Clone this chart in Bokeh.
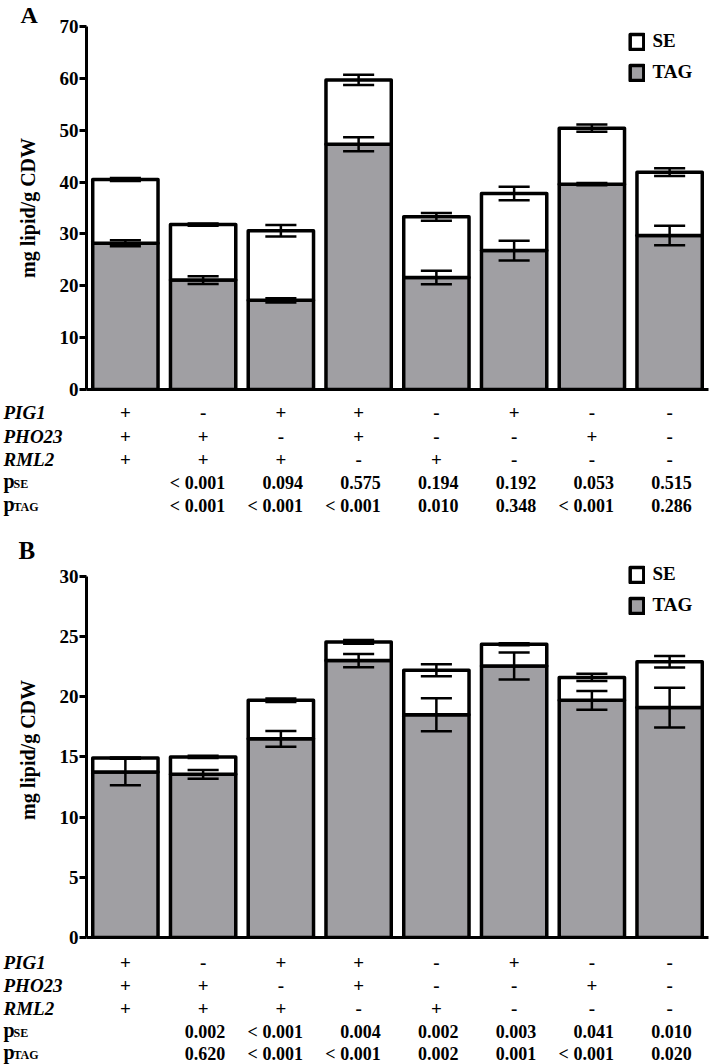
from bokeh.plotting import figure
from bokeh.models import (ColumnDataSource, Range1d, LinearAxis, FixedTicker, Legend,
                          LegendItem, Title)
from bokeh.layouts import column
from bokeh.embed import file_html
from bokeh.resources import INLINE
from bokeh.core.properties import value

# ---------------- data ----------------
genes = ["PIG1", "PHO23", "RML2"]
pig1 = ["+", "-", "+", "+", "-", "+", "-", "-"]
pho23 = ["+", "+", "-", "+", "-", "-", "+", "-"]
rml2 = ["+", "+", "+", "-", "+", "-", "-", "-"]
p_rows = ["SE", "TAG"]

# Panel A
tag_a = [28.2, 21.1, 17.2, 47.3, 21.6, 26.8, 39.6, 29.7]
tag_err_a = [0.6, 0.75, 0.4, 1.35, 1.3, 1.9, 0.2, 1.9]
se_a = [12.3, 10.7, 13.4, 12.4, 11.7, 11.0, 10.8, 12.2]
se_err_a = [0.3, 0.2, 1.1, 1.0, 0.75, 1.3, 0.7, 0.75]
p_se_a = ["", "< 0.001", "0.094", "0.575", "0.194", "0.192", "0.053", "0.515"]
p_tag_a = ["", "< 0.001", "< 0.001", "< 0.001", "0.010", "0.348", "< 0.001", "0.286"]
ticks_a = [0, 10, 20, 30, 40, 50, 60, 70]

# Panel B
tag_b = [13.75, 13.55, 16.5, 23.0, 18.5, 22.55, 19.7, 19.1]
tag_err_b = [1.1, 0.37, 0.65, 0.55, 1.37, 1.12, 0.78, 1.65]
se_b = [1.15, 1.45, 3.2, 1.55, 3.7, 1.8, 1.9, 3.8]
se_err_b = [0.05, 0.1, 0.15, 0.15, 0.5, 0.08, 0.3, 0.48]
p_se_b = ["", "0.002", "< 0.001", "0.004", "0.002", "0.003", "0.041", "0.010"]
p_tag_b = ["", "0.620", "< 0.001", "< 0.001", "0.002", "0.001", "< 0.001", "0.020"]
ticks_b = [0, 5, 10, 15, 20, 25, 30]

# ---------------- style / layout ----------------
FONT = "Liberation Serif"
GRAY = "#a09fa3"
INK = "black"
W = 709
LEFT = 86
RIGHT = 1
FRAME_W = W - LEFT - RIGHT
XPPU = FRAME_W / 8.0
N = 8
X = list(range(1, N + 1))


def bar_plot(tag, tag_err, se, se_err, ticks, H, top, frame_h, tick_span_px,
             legend_bottom, letter=None):
    ymax = ticks[-1]
    yppu = tick_span_px / float(ymax)
    y_end = frame_h / yppu
    bottom = H - top - frame_h
    total = [t + s for t, s in zip(tag, se)]
    src = ColumnDataSource(dict(
        x=X, zero=[0] * N, tag=tag, total=total,
        tag_lo=[t - e for t, e in zip(tag, tag_err)],
        tag_hi=[t + e for t, e in zip(tag, tag_err)],
        tot_lo=[t - e for t, e in zip(total, se_err)],
        tot_hi=[t + e for t, e in zip(total, se_err)],
        cap_l=[xi - 0.2 for xi in X], cap_r=[xi + 0.2 for xi in X],
    ))
    p = figure(width=W, height=H, x_range=Range1d(0.5, N + 0.5), y_range=Range1d(0, y_end),
               output_backend="svg", toolbar_location=None,
               x_axis_type=None, y_axis_type=None,
               min_border_left=LEFT, min_border_right=RIGHT,
               min_border_top=top, min_border_bottom=bottom)
    p.frame_align = False
    p.outline_line_color = None

    if letter is not None:
        p.title = Title(text=letter, align="left", offset=-66, standoff=-3,
                        text_font=FONT, text_font_size="24px", text_font_style="bold",
                        text_color=INK, vertical_align="bottom")

    yax = LinearAxis(ticker=FixedTicker(ticks=ticks), axis_label="mg lipid/g CDW",
                     bounds=(0, ymax))
    yax.axis_line_width = 3
    yax.axis_line_color = INK
    yax.major_tick_line_width = 3
    yax.major_tick_line_color = INK
    yax.major_tick_out = 7
    yax.major_tick_in = 0
    yax.minor_tick_line_color = None
    yax.major_label_standoff = 1
    yax.major_label_text_font = FONT
    yax.major_label_text_font_size = "19px"
    yax.major_label_text_font_style = "bold"
    yax.major_label_text_color = INK
    yax.axis_label_text_font = FONT
    yax.axis_label_text_font_size = "20px"
    yax.axis_label_text_font_style = "bold"
    yax.axis_label_text_color = INK
    yax.axis_label_standoff = 18
    p.add_layout(yax, "left")

    xax = LinearAxis(ticker=FixedTicker(ticks=[]))
    xax.axis_line_width = 3
    xax.axis_line_color = INK
    xax.major_tick_line_color = None
    xax.major_tick_out = 0
    xax.major_tick_in = 0
    xax.minor_tick_line_color = None
    xax.major_label_standoff = 0
    xax.major_label_text_font_size = "0px"
    p.add_layout(xax, "below")

    tag_r = p.vbar(x="x", width=0.84, bottom="zero", top="tag", source=src,
                   fill_color=GRAY, line_color=INK, line_width=3.5, line_join="round")
    se_r = p.vbar(x="x", width=0.84, bottom="tag", top="total", source=src,
                  fill_color="white", line_color=INK, line_width=3.5, line_join="round")

    for lo, hi in [("tag_lo", "tag_hi"), ("tot_lo", "tot_hi")]:
        p.segment(x0="x", y0=lo, x1="x", y1=hi, source=src, line_color=INK, line_width=2.5)
        p.segment(x0="cap_l", y0=hi, x1="cap_r", y1=hi, source=src, line_color=INK, line_width=2.5)
        p.segment(x0="cap_l", y0=lo, x1="cap_r", y1=lo, source=src, line_color=INK, line_width=2.5)

    legend = Legend(items=[LegendItem(label="SE", renderers=[se_r]),
                           LegendItem(label="TAG", renderers=[tag_r])],
                    location=(541.5, legend_bottom))
    legend.glyph_width = 17
    legend.glyph_height = 19
    legend.label_height = 19
    legend.spacing = 9
    legend.padding = 0
    legend.margin = 0
    legend.label_standoff = 8
    legend.border_line_color = None
    legend.background_fill_alpha = 0
    legend.label_text_font = FONT
    legend.label_text_font_size = "19px"
    legend.label_text_font_style = "bold"
    legend.label_text_color = INK
    p.add_layout(legend)
    return p


def table_plot(p_se, p_tag, H, rows_px, letter=None, letter_px=None):
    x0 = 0.5 - LEFT / XPPU
    x1 = 0.5 + (W - LEFT) / XPPU
    t = figure(width=W, height=H, x_range=Range1d(x0, x1), y_range=Range1d(H, 0),
               output_backend="svg", toolbar_location=None,
               x_axis_type=None, y_axis_type=None,
               min_border_left=0, min_border_right=0, min_border_top=0, min_border_bottom=0)
    t.frame_align = False
    t.outline_line_color = None
    t.grid.visible = False
    xl = x0 + 3 / XPPU

    common = dict(text_font=value(FONT), text_color=INK, text_baseline="middle")

    # +/- rows
    sx, sy, st = [], [], []
    for i, row in enumerate([pig1, pho23, rml2]):
        for xi, s in zip(X, row):
            sx.append(xi)
            sy.append(rows_px[i])
            st.append(s)
    t.text(x="x", y="y", text="text", source=ColumnDataSource(dict(x=sx, y=sy, text=st)),
           text_align="center", text_font_size="19px", text_font_style="bold", **common)
    # gene names
    t.text(x="x", y="y", text="text",
           source=ColumnDataSource(dict(x=[xl] * 3, y=rows_px[:3], text=genes)),
           text_align="left", text_font_size="19px", text_font_style="bold italic", **common)
    # p labels: "p" with small-caps subscript, baselines aligned
    t.text(x="x", y="y", text="text",
           source=ColumnDataSource(dict(x=[xl] * 2, y=[rows_px[3] - 1.5, rows_px[4] - 1.5],
                                        text=["p", "p"])),
           text_align="left", text_font_size="20px", text_font_style="bold", **common)
    t.text(x="x", y="y", text="text", x_offset=10,
           source=ColumnDataSource(dict(x=[xl] * 2, y=[rows_px[3] + 1.2, rows_px[4] + 1.2],
                                        text=p_rows)),
           text_align="left", text_font_size="12px", text_font_style="bold", **common)
    # p values
    vx, vy, vt = [], [], []
    for i, row in [(3, p_se), (4, p_tag)]:
        for xi, s in zip(X, row):
            vx.append(xi)
            vy.append(rows_px[i])
            vt.append(s)
    t.text(x="x", y="y", text="text", x_offset=22,
           source=ColumnDataSource(dict(x=vx, y=vy, text=vt)),
           text_align="right", text_font_size="18px", text_font_style="bold", **common)
    if letter is not None:
        t.text(x=[x0 + 18 / XPPU], y=[letter_px], text=[letter], text_align="left",
               text_font_size="25px", text_font_style="bold", **common)
    return t


# A plot: page y 0..399, frame 26..389
pA = bar_plot(tag_a, tag_err_a, se_a, se_err_a, ticks_a, H=399, top=26, frame_h=363,
              tick_span_px=363, legend_bottom=306, letter="A")
# A table + B letter: page y 399..562
tA = table_plot(p_se_a, p_tag_a, H=163, rows_px=[13, 37, 60, 83, 106], letter="B", letter_px=150.5)
# B plot: page y 562..947, frame 562..937
pB = bar_plot(tag_b, tag_err_b, se_b, se_err_b, ticks_b, H=385, top=0, frame_h=375,
              tick_span_px=361.2, legend_bottom=321)
# B table: page y 947..1064
tB = table_plot(p_se_b, p_tag_b, H=117, rows_px=[15, 38, 61, 84, 106])

layout = column(pA, tA, pB, tB, spacing=0)
open("out.html", "w").write(file_html(layout, INLINE))
